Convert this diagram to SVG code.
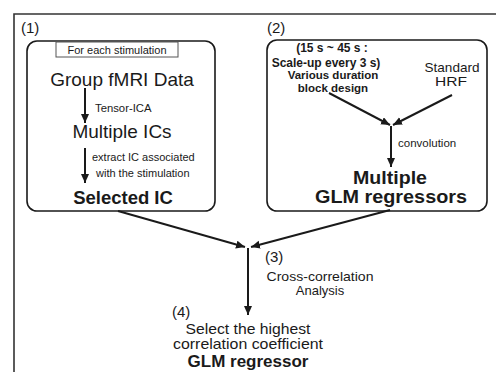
<svg xmlns="http://www.w3.org/2000/svg" width="496" height="372" viewBox="0 0 496 372">
<defs>
<marker id="ah" markerUnits="userSpaceOnUse" markerWidth="10" markerHeight="10" refX="9" refY="4" orient="auto">
<path d="M0,0 L9,4 L0,8 Z" fill="#1a1a1a"/>
</marker>
<style>
text{font-family:"Liberation Sans",Arial,sans-serif;fill:#1a1a1a}
.b{font-weight:bold}
.m{text-anchor:middle}
.box{fill:none;stroke:#1a1a1a;stroke-width:1.6}
.c{fill:none;stroke:#1a1a1a;stroke-width:2;marker-end:url(#ah)}
</style>
</defs>
<rect width="496" height="372" fill="#fff"/>
<path d="M14,372 V14 H496" fill="none" stroke="#333" stroke-width="1.6"/>
<g id="panel1">
<text x="21" y="33" font-size="15">(1)</text>
<rect class="box" x="27" y="41" width="188" height="170" rx="10"/>
<rect x="56" y="42" width="122" height="15" fill="#fff" stroke="#555" stroke-width="1"/>
<text x="117" y="54" font-size="11" class="m">For each stimulation</text>
<text x="122" y="86" font-size="19" class="m">Group fMRI Data</text>
<text x="95" y="112" font-size="11.3">Tensor-ICA</text>
<text x="122" y="138" font-size="19" class="m">Multiple ICs</text>
<text x="92" y="161" font-size="11">extract IC associated</text>
<text x="96" y="177" font-size="11">with the stimulation</text>
<text x="123" y="204" font-size="18.5" class="b m">Selected IC</text>
</g>
<g id="panel2">
<text x="267" y="33" font-size="15">(2)</text>
<rect class="box" x="267" y="40" width="220" height="171" rx="10"/>
<text x="332" y="52" font-size="12" class="b m">(15 s ~ 45 s :</text>
<text x="326" y="67" font-size="12" class="b m">Scale-up every 3 s)</text>
<text x="333" y="79" font-size="11.5" class="b m">Various duration</text>
<text x="333" y="92" font-size="11.5" class="b m">block design</text>
<text x="452" y="72" font-size="13" class="m" textLength="55" lengthAdjust="spacingAndGlyphs">Standard</text>
<text x="451" y="86" font-size="13" class="m" textLength="32" lengthAdjust="spacingAndGlyphs">HRF</text>
<text x="398" y="147" font-size="11.5">convolution</text>
<text x="390" y="184" font-size="18" class="b m" textLength="74" lengthAdjust="spacingAndGlyphs">Multiple</text>
<text x="391" y="203" font-size="18" class="b m" textLength="152" lengthAdjust="spacingAndGlyphs">GLM regressors</text>
</g>
<g id="step3">
<text x="265" y="262" font-size="15">(3)</text>
<text x="320" y="281" font-size="13" class="m" textLength="107" lengthAdjust="spacingAndGlyphs">Cross-correlation</text>
<text x="320" y="295" font-size="13" class="m">Analysis</text>
</g>
<g id="step4">
<text x="172" y="317" font-size="15">(4)</text>
<text x="248" y="334" font-size="14.5" class="m" textLength="125" lengthAdjust="spacingAndGlyphs">Select the highest</text>
<text x="248" y="349" font-size="14.5" class="m" textLength="150" lengthAdjust="spacingAndGlyphs">correlation coefficient</text>
<text x="248" y="367" font-size="17" class="b m">GLM regressor</text>
</g>
<g id="connectors">
<line class="c" x1="85" y1="88" x2="85" y2="123"/>
<line class="c" x1="85" y1="148" x2="85" y2="183"/>
<line class="c" x1="329" y1="93" x2="390" y2="125"/>
<line class="c" x1="452" y1="95" x2="393" y2="125"/>
<line class="c" x1="391" y1="126" x2="391" y2="167"/>
<line class="c" x1="118" y1="211" x2="245" y2="247"/>
<line class="c" x1="390" y1="210" x2="251" y2="247"/>
<line class="c" x1="248" y1="248" x2="248" y2="315"/>
</g>
</svg>
